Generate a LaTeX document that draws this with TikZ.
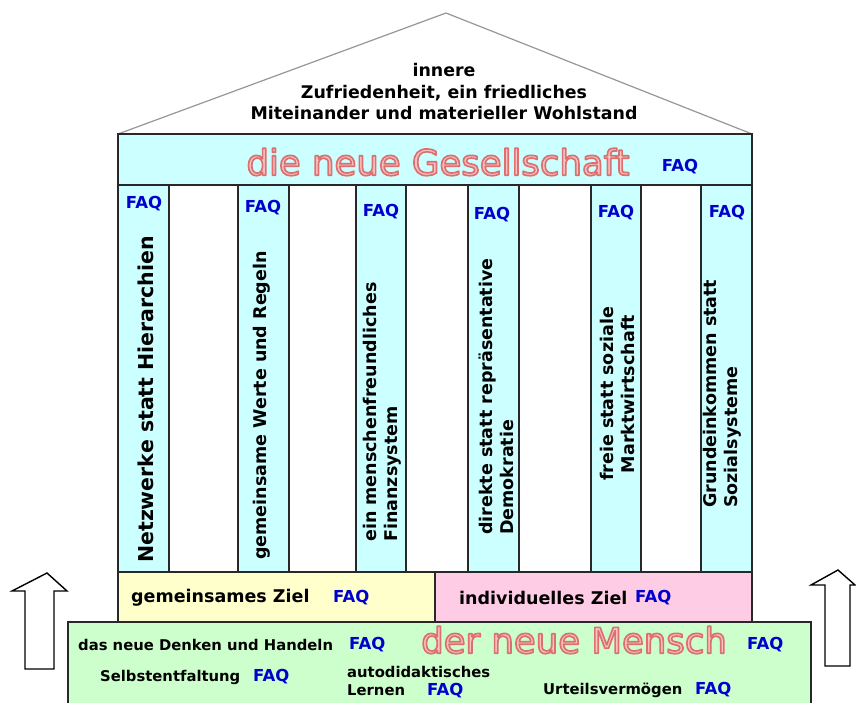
\documentclass[tikz,border=0pt]{standalone}
\usepackage{fontspec}
\setmainfont{DejaVu Sans}
\definecolor{cyanbg}{RGB}{204,255,255}
\definecolor{yelbg}{RGB}{255,255,204}
\definecolor{pinkbg}{RGB}{255,204,230}
\definecolor{greenbg}{RGB}{204,255,204}
\definecolor{faqblue}{RGB}{0,0,204}
\definecolor{outfill}{RGB}{252,196,196}
\definecolor{roofgray}{RGB}{150,150,150}
\definecolor{edge}{RGB}{40,40,40}
\tikzset{
  boxnode/.style={draw=edge, line width=1.3pt, inner sep=0pt, outer sep=0pt, anchor=north west},
  faq/.style={text=faqblue, font=\bfseries\fontsize{16.5}{16.5}\selectfont, inner sep=0pt},
  rooftext/.style={font=\bfseries\fontsize{17.4}{21.5}\selectfont, align=center, inner sep=0pt},
  coltext/.style={font=\bfseries\fontsize{17.5}{21}\selectfont, inner sep=0pt, rotate=90},
  goaltext/.style={font=\bfseries\fontsize{17.5}{17.5}\selectfont, inner sep=0pt, anchor=west},
  mantext/.style={font=\bfseries\fontsize{14.8}{18}\selectfont, inner sep=0pt, anchor=west, align=left},
  bigtext/.style={font=\fontsize{35.5}{36}\selectfont, inner sep=0pt},
  uparrow/.style={draw=black, fill=white, line width=1.4pt, line join=miter}
}
\newcommand{\outlined}[1]{{\color{outfill}\special{pdf:literal direct 2 Tr 1.7 w 1 j 0.86 0.44 0.44 RG}#1\special{pdf:literal direct 0 Tr}}}
\begin{document}
\begin{tikzpicture}[x=1pt,y=-1pt]
\useasboundingbox (0,0) rectangle (856,702);

% roof
\coordinate (roofL) at (118,134);
\coordinate (apex) at (446,13);
\coordinate (roofR) at (752,134);
\draw[roofgray, line width=1.2pt] (roofL) -- (apex) -- (roofR);
\node[rooftext] (rooft) at (444,92) {innere\\Zufriedenheit, ein friedliches\\Miteinander und materieller Wohlstand};

% top band
\node[boxnode, fill=cyanbg, minimum width=634pt, minimum height=51pt] (band) at (118,134) {};
\node[bigtext] (gesell) at (438,162) {\outlined{die neue Gesellschaft}};
\node[faq] (faqband) at (680,167) {FAQ};

% columns
\node[boxnode, fill=cyanbg, minimum width=51pt, minimum height=387pt] (c1) at (118,185) {};
\node[boxnode, fill=white, minimum width=69pt, minimum height=387pt] (g1) at (169,185) {};
\node[boxnode, fill=cyanbg, minimum width=51pt, minimum height=387pt] (c2) at (238,185) {};
\node[boxnode, fill=white, minimum width=67pt, minimum height=387pt] (g2) at (289,185) {};
\node[boxnode, fill=cyanbg, minimum width=50pt, minimum height=387pt] (c3) at (356,185) {};
\node[boxnode, fill=white, minimum width=62pt, minimum height=387pt] (g3) at (406,185) {};
\node[boxnode, fill=cyanbg, minimum width=51pt, minimum height=387pt] (c4) at (468,185) {};
\node[boxnode, fill=white, minimum width=72pt, minimum height=387pt] (g4) at (519,185) {};
\node[boxnode, fill=cyanbg, minimum width=50pt, minimum height=387pt] (c5) at (591,185) {};
\node[boxnode, fill=white, minimum width=60pt, minimum height=387pt] (g5) at (641,185) {};
\node[boxnode, fill=cyanbg, minimum width=51pt, minimum height=387pt] (c6) at (701,185) {};

\node[faq] (faq1) at (144,204) {FAQ};
\node[faq] (faq2) at (263,208) {FAQ};
\node[faq] (faq3) at (381,212) {FAQ};
\node[faq] (faq4) at (492,215) {FAQ};
\node[faq] (faq5) at (616,213) {FAQ};
\node[faq] (faq6) at (727,213) {FAQ};

\node[coltext, anchor=west, font=\bfseries\fontsize{20.5}{21}\selectfont] (t1) at (146,563) {Netzwerke statt Hierarchien};
\node[coltext, anchor=west] (t2) at (262,560) {gemeinsame Werte und Regeln};
\node[coltext, anchor=west, align=left] (t3) at (382,542) {ein menschenfreundliches\\Finanzsystem};
\node[coltext, anchor=west, align=left] (t4) at (496,535) {direkte statt repräsentative\\Demokratie};
\node[coltext, anchor=center, align=center] (t5) at (617,394) {freie statt soziale\\Marktwirtschaft};
\node[coltext, anchor=west, align=left] (t6) at (722,508) {Grundeinkommen statt\\Sozialsysteme};

% goal bands
\node[boxnode, fill=yelbg, minimum width=317pt, minimum height=50pt] (gem) at (118,572) {};
\node[boxnode, fill=pinkbg, minimum width=317pt, minimum height=50pt] (ind) at (435,572) {};
\node[goaltext] (gemt) at (131,598) {gemeinsames Ziel};
\node[faq, anchor=west] (gemf) at (333,598) {FAQ};
\node[goaltext] (indt) at (459,598) {individuelles Ziel};
\node[faq, anchor=west] (indf) at (635,598) {FAQ};

% green base
\node[boxnode, fill=greenbg, minimum width=743pt, minimum height=84pt] (base) at (68,622) {};
\node[bigtext, anchor=west] (mensch) at (421,640) {\outlined{der neue Mensch}};
\node[faq, anchor=west] (menschf) at (747,645) {FAQ};
\node[mantext] (denk) at (78,645) {das neue Denken und Handeln};
\node[faq, anchor=west] (denkf) at (349,645) {FAQ};
\node[mantext] (selbst) at (100,677) {Selbstentfaltung};
\node[faq, anchor=west] (selbstf) at (253,677) {FAQ};
\node[mantext] (auto) at (347,681) {autodidaktisches\\Lernen};
\node[faq, anchor=west] (autof) at (427,691) {FAQ};
\node[mantext] (urteil) at (543,690) {Urteilsvermögen};
\node[faq, anchor=west] (urteilf) at (695,690) {FAQ};

% arrows
\draw[uparrow] (25,669) -- (25,591) -- (12,591) -- (47,573) -- (67,591) -- (54,591) -- (54,669) -- cycle;
\draw[uparrow] (825,666) -- (825,585) -- (811,585) -- (838,570) -- (855,585) -- (850,585) -- (850,666) -- cycle;
\end{tikzpicture}
\end{document}
